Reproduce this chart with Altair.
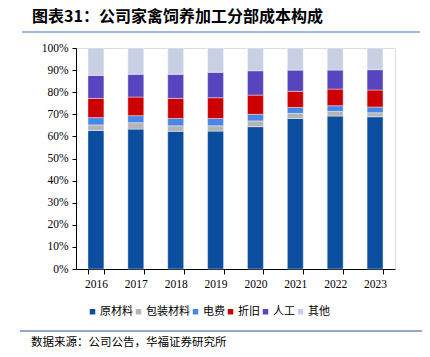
import altair as alt
import pandas as pd

years = ["2016", "2017", "2018", "2019", "2020", "2021", "2022", "2023"]
categories = ["原材料", "包装材料", "电费", "折旧", "人工", "其他"]
colors = ["#0B4D9F", "#B4B4B4", "#4A86E8", "#CC0000", "#5645BE", "#C9D0E3"]

raw_material = [62.7, 63.3, 62.3, 62.4, 64.4, 68.1, 69.2, 68.9]
packaging = [2.5, 2.9, 2.5, 2.4, 2.6, 2.3, 2.1, 1.8]
electricity = [3.3, 3.2, 3.3, 3.3, 3.0, 2.7, 2.6, 2.6]
depreciation = [8.7, 8.4, 9.1, 9.4, 8.7, 7.3, 7.5, 7.7]
labor = [10.4, 10.3, 10.9, 11.5, 11.0, 9.6, 8.6, 9.2]
other = [12.4, 11.9, 11.9, 11.0, 10.3, 10.0, 10.0, 9.8]

title_text = "图表31：公司家禽饲养加工分部成本构成"
source_text = "数据来源：公司公告，华福证券研究所"

series = [raw_material, packaging, electricity, depreciation, labor, other]
rows = []
for ci, (cat, vals) in enumerate(zip(categories, series)):
    for y, v in zip(years, vals):
        rows.append({"year": y, "cat": cat, "value": v / 100.0, "idx": ci})
df = pd.DataFrame(rows)

serif = "Liberation Serif"
cjk = "Noto Sans CJK SC"

bars = alt.Chart(df).mark_bar(
    stroke="white", strokeWidth=0.6, strokeOpacity=0.7
).encode(
    x=alt.X("year:N", title=None, sort=years,
            scale=alt.Scale(paddingInner=0.6, paddingOuter=0.3),
            axis=alt.Axis(labelAngle=0, labelFont=serif, labelFontSize=11.5,
                          labelColor="#000", domainColor="#000", tickColor="#000",
                          tickSize=5, tickBand="extent", labelPadding=4, grid=False)),
    y=alt.Y("value:Q", title=None, stack="zero",
            scale=alt.Scale(domain=[0, 1]),
            axis=alt.Axis(format=".0%", values=[i / 10 for i in range(11)],
                          labelFont=serif, labelFontSize=11.5, labelColor="#000",
                          domainColor="#000", tickColor="#000", tickSize=4,
                          labelPadding=4, grid=False)),
    color=alt.Color("cat:N", title=None,
                    scale=alt.Scale(domain=categories, range=colors),
                    legend=alt.Legend(orient="none", legendX=11, legendY=258,
                                      direction="horizontal", symbolType="square",
                                      symbolSize=30, symbolStrokeWidth=0,
                                      labelFont=cjk, labelFontSize=11,
                                      labelColor="#000", labelOffset=2,
                                      columnPadding=0)),
    order=alt.Order("idx:Q", sort="ascending"),
)

title_df = pd.DataFrame({"t": [title_text]})
title = alt.Chart(title_df).mark_text(
    font=cjk, fontSize=16, fontWeight="bold", align="left", baseline="middle", color="#000"
).encode(x=alt.value(-44), y=alt.value(-31), text="t:N")

top_line = alt.Chart(title_df).mark_rule(color="#4472C4", strokeWidth=1).encode(
    x=alt.value(-54), x2=alt.value(344), y=alt.value(-16))

src_df = pd.DataFrame({"t": [source_text]})
source = alt.Chart(src_df).mark_text(
    font=cjk, fontSize=11.5, align="left", baseline="middle", color="#000"
).encode(x=alt.value(-45), y=alt.value(295), text="t:N")

bottom_line = alt.Chart(src_df).mark_rule(color="#2F5597", strokeWidth=1).encode(
    x=alt.value(-56), x2=alt.value(346), y=alt.value(283))

chart = alt.layer(bars, title, top_line, source, bottom_line).properties(
    width=319, height=221,
    autosize=alt.AutoSizeParams(type="none"),
    padding={"left": 76, "top": 48, "right": 35, "bottom": 88},
).configure_view(stroke=None).configure(background="white")

chart.save("out.html", embed_options={"renderer": "svg", "actions": False})
